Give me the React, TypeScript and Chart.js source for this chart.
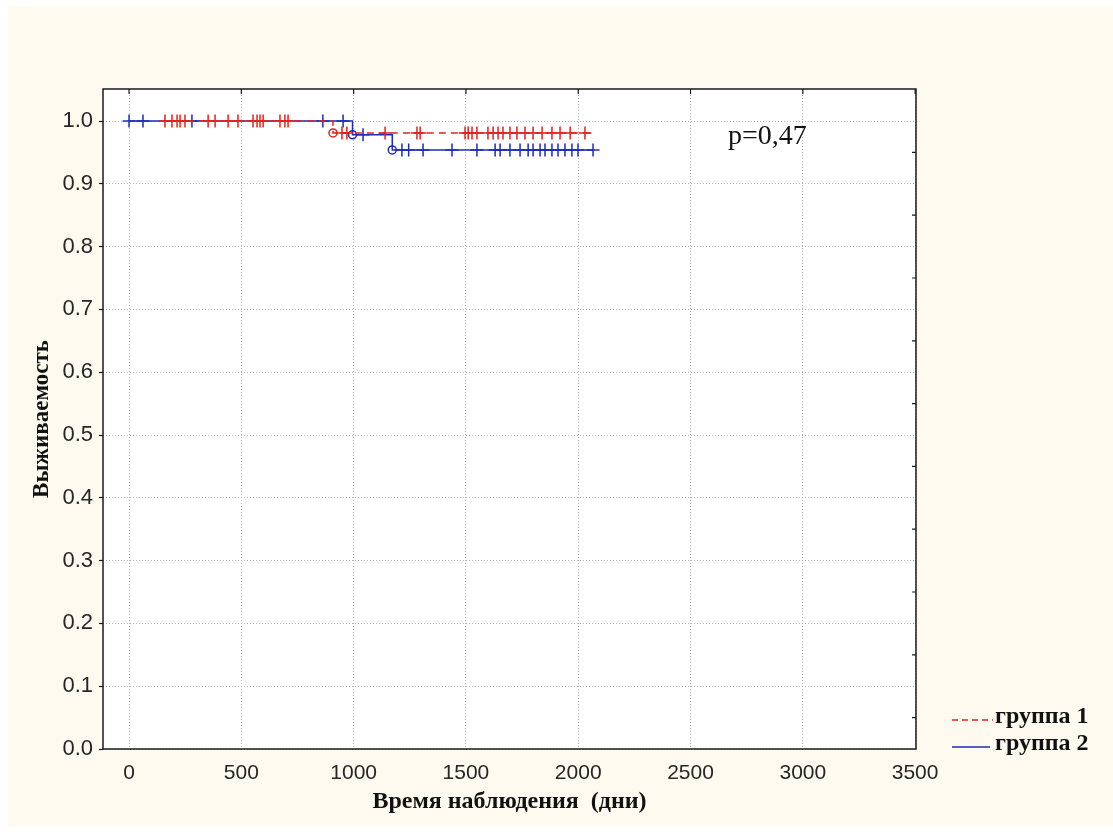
import React, { useEffect, useRef } from "react";
import { Chart, registerables } from "chart.js";

Chart.register(...registerables);

// ---- data ----
const xTicks = [0, 500, 1000, 1500, 2000, 2500, 3000, 3500];
const yTicks = [0, 0.1, 0.2, 0.3, 0.4, 0.5, 0.6, 0.7, 0.8, 0.9, 1.0];
const rightTicks = [0.05, 0.15, 0.25, 0.35, 0.45, 0.55, 0.65, 0.75, 0.85, 0.95];

// группа 1 (red, dashed)
const g1Start = 150;
const g1End = 2052;
const g1EventTimes = [908];
const g1EventSurv = [0.981];
const g1Censored = [
  160, 191, 214, 227, 249, 352, 383, 441, 485, 552, 570, 583, 597, 672, 694, 708,
  948, 970, 1140, 1282, 1296, 1496, 1510, 1527, 1549, 1598, 1621, 1643, 1665, 1696,
  1727, 1763, 1799, 1839, 1883, 1919, 1964, 2030,
];

// группа 2 (blue, solid)
const g2Start = 0;
const g2End = 2066;
const g2EventTimes = [995, 1172];
const g2EventSurv = [0.978, 0.954];
const g2Censored = [
  0, 62, 280, 863, 953, 1042, 1215, 1245, 1309, 1438, 1549, 1630, 1652, 1696, 1741,
  1777, 1799, 1830, 1852, 1883, 1910, 1941, 1972, 1999, 2066,
];

const pValueText = "p=0,47";
const pValuePos = { x: 2667, y: 0.9745 };
const legendLabels = ["группа 1", "группа 2"];

const RED = "#e3221f";
const BLUE = "#1f2bb5";

function levelAt(t: number, times: number[], surv: number[]) {
  let s = 1;
  for (let i = 0; i < times.length; i++) if (times[i] <= t) s = surv[i];
  return s;
}

function stepLine(start: number, end: number, times: number[], surv: number[]) {
  const pts: { x: number; y: number }[] = [{ x: start, y: 1 }];
  let s = 1;
  times.forEach((t, i) => {
    pts.push({ x: t, y: s });
    s = surv[i];
    pts.push({ x: t, y: s });
  });
  pts.push({ x: end, y: s });
  return pts;
}

export default function App() {
  const ref = useRef<HTMLCanvasElement | null>(null);

  useEffect(() => {
    if (!ref.current) return;

    const bgPlugin = {
      id: "bg",
      beforeDraw(chart: any) {
        const { ctx, chartArea: a } = chart;
        ctx.save();
        ctx.fillStyle = "#ffffff";
        ctx.fillRect(0, 0, chart.width, chart.height);
        ctx.fillStyle = "#fefaef";
        ctx.fillRect(8, 6, chart.width - 8, chart.height - 12);
        ctx.fillStyle = "#ffffff";
        ctx.fillRect(a.left, a.top, a.right - a.left, a.bottom - a.top);
        ctx.restore();
      },
      afterDraw(chart: any) {
        const { ctx, chartArea: a, scales } = chart;
        const xs = scales.x;
        const ys = scales.y;
        ctx.save();
        // frame
        ctx.strokeStyle = "#1a1a1a";
        ctx.lineWidth = 1.5;
        ctx.setLineDash([]);
        ctx.strokeRect(a.left, a.top, a.right - a.left, a.bottom - a.top);
        // inward ticks on top and right
        ctx.lineWidth = 1.2;
        ctx.beginPath();
        xTicks.forEach((v) => {
          const px = xs.getPixelForValue(v);
          ctx.moveTo(px, a.top);
          ctx.lineTo(px, a.top + 5);
        });
        rightTicks.forEach((v) => {
          const py = ys.getPixelForValue(v);
          ctx.moveTo(a.right, py);
          ctx.lineTo(a.right - 4, py);
        });
        ctx.stroke();

        // p value
        ctx.fillStyle = "#111111";
        ctx.font = "28px 'Liberation Serif'";
        ctx.textBaseline = "middle";
        ctx.textAlign = "left";
        ctx.fillText(pValueText, xs.getPixelForValue(pValuePos.x), ys.getPixelForValue(pValuePos.y));

        // legend (outside the plot, bottom right)
        const lx = 952;
        ctx.lineWidth = 1.5;
        ctx.strokeStyle = RED;
        ctx.setLineDash([6, 4]);
        ctx.beginPath();
        ctx.moveTo(lx, 720);
        ctx.lineTo(lx + 41, 720);
        ctx.stroke();
        ctx.strokeStyle = BLUE;
        ctx.setLineDash([]);
        ctx.beginPath();
        ctx.moveTo(lx, 747);
        ctx.lineTo(lx + 38, 747);
        ctx.stroke();
        ctx.font = "bold 24px 'Liberation Serif'";
        ctx.fillStyle = "#111111";
        ctx.fillText(legendLabels[0], 995, 717);
        ctx.fillText(legendLabels[1], 995, 744);
        ctx.restore();
      },
    };

    const g1Line = stepLine(g1Start, g1End, g1EventTimes, g1EventSurv);
    const g2Line = stepLine(g2Start, g2End, g2EventTimes, g2EventSurv);
    const g1Cens = g1Censored.map((t) => ({ x: t, y: levelAt(t, g1EventTimes, g1EventSurv) }));
    const g2Cens = g2Censored.map((t) => ({ x: t, y: levelAt(t, g2EventTimes, g2EventSurv) }));
    const g1Ev = g1EventTimes.map((t, i) => ({ x: t, y: g1EventSurv[i] }));
    const g2Ev = g2EventTimes.map((t, i) => ({ x: t, y: g2EventSurv[i] }));

    const chart = new Chart(ref.current, {
      type: "scatter",
      data: {
        datasets: [
          {
            label: "группа 1",
            data: g1Line,
            showLine: true,
            borderColor: RED,
            borderWidth: 1.5,
            borderDash: [7, 5],
            pointRadius: 0,
            fill: false,
          },
          {
            label: "группа 1 censored",
            data: g1Cens,
            showLine: false,
            pointStyle: "cross",
            pointRadius: 6.5,
            borderColor: RED,
            borderWidth: 1.5,
          },
          {
            label: "группа 1 events",
            data: g1Ev,
            showLine: false,
            pointStyle: "circle",
            pointRadius: 4,
            borderColor: RED,
            backgroundColor: "rgba(0,0,0,0)",
            borderWidth: 1.5,
          },
          {
            label: "группа 2",
            data: g2Line,
            showLine: true,
            borderColor: BLUE,
            borderWidth: 1.5,
            pointRadius: 0,
            fill: false,
          },
          {
            label: "группа 2 censored",
            data: g2Cens,
            showLine: false,
            pointStyle: "cross",
            pointRadius: 6.5,
            borderColor: BLUE,
            borderWidth: 1.5,
          },
          {
            label: "группа 2 events",
            data: g2Ev,
            showLine: false,
            pointStyle: "circle",
            pointRadius: 4,
            borderColor: BLUE,
            backgroundColor: "rgba(0,0,0,0)",
            borderWidth: 1.5,
          },
        ],
      },
      options: {
        animation: false,
        responsive: false,
        maintainAspectRatio: false,
        devicePixelRatio: 1,
        layout: { padding: { top: 89, right: 197, left: 0, bottom: 0 } },
        plugins: {
          legend: { display: false },
          tooltip: { enabled: false },
        },
        scales: {
          x: {
            type: "linear",
            min: -116,
            max: 3504,
            afterBuildTicks: (s: any) => {
              s.ticks = xTicks.map((v) => ({ value: v }));
            },
            afterFit: (s: any) => {
              s.height = 83;
            },
            grid: {
              color: "#b5b5b5",
              lineWidth: 1,
              drawTicks: false,
            },
            border: { display: false, dash: [1, 2] },
            ticks: {
              padding: 12,
              color: "#262626",
              font: { family: "'Liberation Sans'", size: 21 },
              callback: (v: any) => String(v),
            },
            title: {
              display: true,
              text: "Время наблюдения  (дни)",
              color: "#111111",
              font: { family: "'Liberation Serif'", size: 24, weight: "bold" },
              padding: { top: 0, bottom: 16 },
            },
          },
          y: {
            type: "linear",
            min: 0,
            max: 1.051,
            afterBuildTicks: (s: any) => {
              s.ticks = yTicks.map((v) => ({ value: v }));
            },
            afterFit: (s: any) => {
              s.width = 103;
            },
            grid: {
              color: "#b5b5b5",
              lineWidth: 1,
              drawTicks: true,
              tickLength: 4,
              tickColor: "#1a1a1a",
              tickWidth: 1.2,
              tickBorderDash: [],
            },
            border: { display: false, dash: [1, 2] },
            ticks: {
              padding: 6,
              color: "#262626",
              font: { family: "'Liberation Sans'", size: 22 },
              callback: (v: any) => Number(v).toFixed(1),
            },
            title: {
              display: true,
              text: "Выживаемость",
              color: "#111111",
              font: { family: "'Liberation Serif'", size: 23, weight: "bold" },
              padding: { top: 28, bottom: 0 },
            },
          },
        },
      },
      plugins: [bgPlugin],
    } as any);

    return () => chart.destroy();
  }, []);

  return (
    <div style={{ position: "absolute", left: 0, top: 0, width: 1113, height: 832 }}>
      <canvas ref={ref} width={1113} height={832} style={{ width: 1113, height: 832 }} />
    </div>
  );
}
